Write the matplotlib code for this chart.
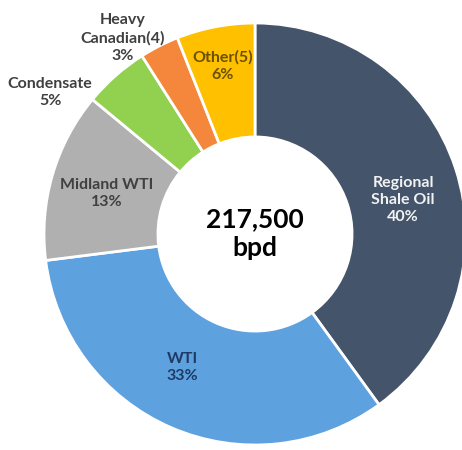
import numpy as np
import matplotlib
matplotlib.use("Agg")
import matplotlib.pyplot as plt

plt.rcParams['font.family'] = ['Lato', 'DejaVu Sans']

# data, clockwise from 12 o'clock
labels = ['Regional\nShale Oil', 'WTI', 'Midland WTI', 'Condensate', 'Heavy\nCanadian(4)', 'Other(5)']
shares = [40, 33, 13, 5, 3, 6]
total_text = '217,500\nbpd'

colors = ['#44546A', '#5EA1DF', '#B0B0B0', '#92D050', '#F4873B', '#FFC000']
text_colors = ['#F2F2F2', '#1F3A63', '#404040', '#404040', '#404040', '#6B5000']
# label placement: radius (outer = 1) and angle nudge in degrees
label_r = [0.72, 0.72, 0.73, 1.18, 1.12, 0.81]
label_nudge = [-5, -5, 1, 14, 7, 0]

W, H = 462, 450
R_PX = 211
cx, cy = 255, 216  # centre in pixels from bottom-left

fig = plt.figure(figsize=(W / 100, H / 100), dpi=100)
ax = fig.add_axes([0, 0, 1, 1])
ax.pie(shares, colors=colors, startangle=90, counterclock=False, radius=1,
       wedgeprops=dict(width=0.54, edgecolor='white', linewidth=2))
ax.set_xlim(-cx / R_PX, (W - cx) / R_PX)
ax.set_ylim(-cy / R_PX, (H - cy) / R_PX)
ax.set_aspect('equal')
ax.axis('off')

start = 90
for lab, s, tc, r, nd in zip(labels, shares, text_colors, label_r, label_nudge):
    mid = start - s * 3.6 / 2
    start -= s * 3.6
    a = np.radians(mid + nd)
    ax.text(r * np.cos(a), r * np.sin(a), f'{lab}\n{s}%', ha='center', va='center',
            color=tc, fontsize=11.5, fontweight='bold', linespacing=1.3)

ax.text(0, 0, total_text, ha='center', va='center', fontsize=19,
        fontweight='bold', color='black', linespacing=1.25)

fig.savefig('out.png', dpi=100)
